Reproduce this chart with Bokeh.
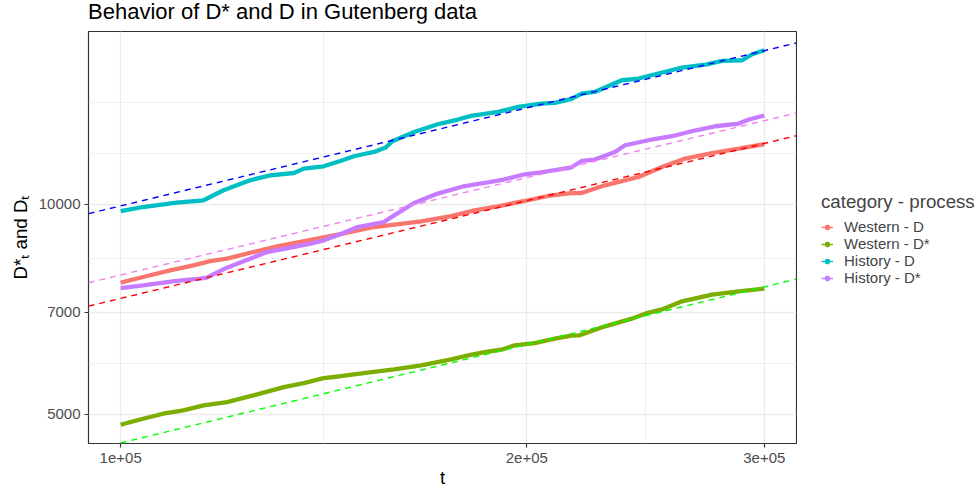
import numpy as np
from bokeh.plotting import figure
from bokeh.models import Range1d, FixedTicker, Legend, LegendItem, Div
from bokeh.layouts import column, row
from bokeh.embed import file_html
from bokeh.resources import INLINE

# ---------------- data (t in thousands) ----------------
series_names = ["Western - D", "Western - D*", "History - D", "History - D*"]
series_colors = ["#F8766D", "#7CAE00", "#00BFC4", "#C77CFF"]

western_d_t = [100, 103.9, 108.8, 113.2, 116.5, 119.9, 125.4, 130.6, 135.9, 145.5, 154.1, 167.0,
               175.8, 182.9, 190.4, 199.3, 207.4, 215.9, 219.6, 228.6, 242.0, 251.9, 262.1,
               274.4, 287.2, 300]
western_d = [7724, 7868, 8042, 8176, 8292, 8359, 8543, 8704, 8831, 9066, 9278, 9454, 9621, 9804,
             9934, 10110, 10278, 10377, 10380, 10647, 10943, 11309, 11627, 11844, 12019, 12191]

western_ds_t = [100, 102.7, 107.5, 111.3, 115.2, 119.9, 125.4, 132.1, 136.7, 141.4, 145.5, 152.4,
                159.5, 167.0, 175.8, 180.9, 186.1, 191.5, 195.9, 202.7, 209.8, 215.9, 218.9,
                228.6, 239.3, 244.8, 251.9, 260.7, 274.4, 287.2, 300]
western_ds = [4832, 4901, 5011, 5066, 5150, 5206, 5323, 5470, 5543, 5636, 5671, 5737, 5800, 5877,
              5995, 6074, 6140, 6189, 6278, 6326, 6419, 6483, 6490, 6686, 6857, 6971, 7070, 7261,
              7423, 7504, 7571]

history_d_t = [100, 103.9, 110.0, 115.2, 119.2, 124.7, 129.1, 134.4, 136.7, 141.4, 145.5, 148.9,
               154.1, 157.2, 159.0, 165.0, 171.8, 177.8, 181.9, 190.4, 197.1, 205.0, 209.8, 215.9,
               219.6, 224.6, 235.2, 242.0, 249.0, 260.7, 271.3, 279.2, 288.9, 293.9, 300]
history_d = [9781, 9911, 10056, 10133, 10473, 10824, 11004, 11088, 11250, 11336, 11533, 11717,
             11885, 12059, 12312, 12695, 13022, 13226, 13384, 13561, 13787, 13942, 13970, 14155,
             14410, 14486, 15057, 15142, 15358, 15702, 15858, 16047, 16084, 16406, 16624]

history_ds_t = [100, 103.9, 110.0, 114.5, 115.8, 119.9, 124.7, 128.4, 133.6, 138.3, 141.4, 145.5,
                149.8, 156.7, 159.5, 165.0, 171.8, 179.9, 186.1, 192.6, 199.3, 206.2, 215.9,
                219.6, 224.6, 232.5, 236.5, 246.2, 256.2, 263.7, 276.0, 287.2, 292.2, 300]
history_ds = [7586, 7654, 7765, 7827, 7853, 8114, 8359, 8543, 8667, 8783, 8880, 9058, 9278, 9433,
              9643, 10043, 10360, 10622, 10728, 10860, 11041, 11126, 11298, 11536, 11590, 11885,
              12151, 12353, 12517, 12695, 12937, 13053, 13226, 13401]

# fitted power laws D = a * (t / 1e5) ** b  (dashed reference lines)
fit_colors = ["red", "#00FF00", "blue", "violet"]
fit_d_at_1e5 = [7331, 4551, 9947, 7920]
fit_slope = [0.4653, 0.4686, 0.4661, 0.4634]

x_ticks = [1e5, 2e5, 3e5]
x_tick_labels = ["1e+05", "2e+05", "3e+05"]
y_ticks = [5000, 7000, 10000]
y_tick_labels = ["5000", "7000", "10000"]

title_text = "Behavior of D* and D in Gutenberg data"
x_title = "t"
y_title = "D*\u209c and D\u209c"
legend_title = "category - process"

# ---------------- helpers ----------------
all_t = [np.array(v) * 1000 for v in (western_d_t, western_ds_t, history_d_t, history_ds_t)]
all_d = [np.array(v, dtype=float) for v in (western_d, western_ds, history_d, history_ds)]


def log_limits(arrs, mult=0.05):
    lo = np.log10(min(a.min() for a in arrs))
    hi = np.log10(max(a.max() for a in arrs))
    r = hi - lo
    return 10 ** (lo - mult * r), 10 ** (hi + mult * r)


def log_minor(ticks):
    lb = np.log10(ticks)
    bd = lb[1] - lb[0]
    ext = np.concatenate([[lb[0] - bd], lb, [lb[-1] + bd]])
    mids = (ext[:-1] + ext[1:]) / 2
    return sorted((10 ** np.concatenate([mids, [ext[0], ext[-1]]])).tolist())


x0, x1 = log_limits(all_t)
y0, y1 = log_limits(all_d)

FONT = "Liberation Sans"

# ---------------- title ----------------
title_div = Div(text=title_text, width=976, height=23, margin=0,
                styles={"font-family": FONT, "font-size": "22px", "line-height": "23px",
                        "color": "black", "padding-left": "88px", "white-space": "nowrap"})

# ---------------- main plot ----------------
p = figure(width=797, height=468, x_axis_type="log", y_axis_type="log",
           x_range=Range1d(x0, x1), y_range=Range1d(y0, y1),
           output_backend="svg", toolbar_location=None, title=None,
           min_border_left=88, min_border_right=1, min_border_top=8, min_border_bottom=48,
           background_fill_color="white", border_fill_color="white")

xt = FixedTicker(ticks=x_ticks, minor_ticks=log_minor(x_ticks))
yt = FixedTicker(ticks=y_ticks, minor_ticks=log_minor(y_ticks))
p.xaxis.ticker = xt
p.yaxis.ticker = yt
p.xgrid.ticker = xt
p.ygrid.ticker = yt
p.xaxis.major_label_overrides = {float(k): v for k, v in zip(x_ticks, x_tick_labels)}
p.yaxis.major_label_overrides = {float(k): v for k, v in zip(y_ticks, y_tick_labels)}

for g in (p.xgrid, p.ygrid):
    g.grid_line_color = "#EBEBEB"
    g.grid_line_width = 1.3
    g.minor_grid_line_color = "#EBEBEB"
    g.minor_grid_line_width = 0.8

for ax in (p.xaxis, p.yaxis):
    ax.axis_line_color = None
    ax.major_tick_line_color = "#333333"
    ax.major_tick_line_width = 1.2
    ax.major_tick_out = 4
    ax.major_tick_in = 0
    ax.minor_tick_line_color = None
    ax.major_label_text_font = FONT
    ax.major_label_text_font_size = "15px"
    ax.major_label_text_color = "#4D4D4D"
    ax.axis_label_text_font = FONT
    ax.axis_label_text_font_size = "18.7px"
    ax.axis_label_text_font_style = "normal"
    ax.axis_label_text_color = "black"

p.xaxis.major_label_standoff = 5
p.xaxis.axis_label = x_title
p.xaxis.axis_label_standoff = 1
p.yaxis.major_label_standoff = 4
p.yaxis.axis_label = y_title
p.yaxis.axis_label_standoff = 5

p.outline_line_color = "#333333"
p.outline_line_width = 1.2

# solid series
for t, d, c in zip(all_t, all_d, series_colors):
    p.line(t, d, line_color=c, line_width=4.3)

# dashed fitted lines
xs_fit = np.array([x0, x1])
for a, b, c in zip(fit_d_at_1e5, fit_slope, fit_colors):
    p.line(xs_fit, a * (xs_fit / 1e5) ** b, line_color=c, line_width=1.4, line_dash="6 5")

# ---------------- legend panel ----------------
lf = figure(width=179, height=468, x_range=Range1d(0, 1), y_range=Range1d(0, 1),
            output_backend="svg", toolbar_location=None, title=None,
            x_axis_location=None, y_axis_location=None,
            min_border_left=0, min_border_right=0, min_border_top=0, min_border_bottom=0,
            outline_line_color=None, background_fill_color="white", border_fill_color="white")
lf.xgrid.visible = False
lf.ygrid.visible = False

items = []
for name, c in zip(series_names, series_colors):
    lr = lf.line(x=[5, 6], y=[5, 6], line_color=c, line_width=1.4)   # off-range key carriers
    sr = lf.scatter(x=[5], y=[5], color=c, size=3)
    items.append(LegendItem(label=name, renderers=[lr, sr]))

legend = Legend(items=items, location=(24, 157), title=legend_title,
                padding=0, margin=0, border_line_color=None, background_fill_alpha=0,
                glyph_width=12, glyph_height=14, label_height=14, spacing=0,
                label_standoff=11, title_standoff=5,
                title_text_font=FONT, title_text_font_size="18.7px", title_text_font_style="normal",
                label_text_font=FONT, label_text_font_size="15px")
lf.add_layout(legend)

layout = column(title_div, row(p, lf, spacing=0), spacing=0)

open("out.html", "w").write(file_html(layout, INLINE))
